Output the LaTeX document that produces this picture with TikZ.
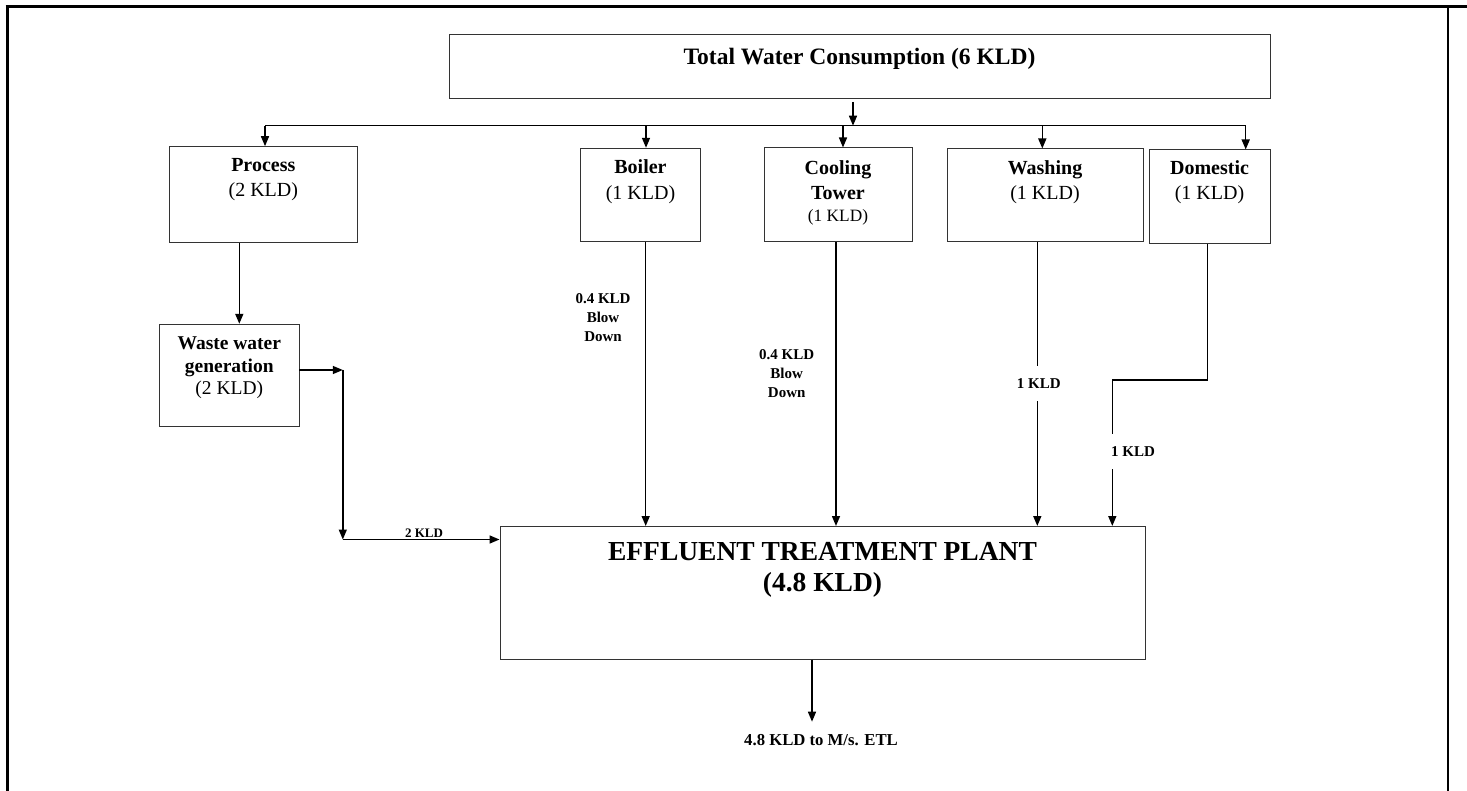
\documentclass[tikz,border=0pt]{standalone}
\usepackage{fontspec}
\setmainfont{Liberation Serif}
\usetikzlibrary{arrows.meta}
\tikzset{
  box/.style={draw=black!80, line width=1pt, rectangle, inner sep=0pt},
  txt/.style={inner sep=0pt, align=center, anchor=base},
  conn/.style={line width=1.5pt, black},
  arr/.style={conn, -{Triangle[length=10pt,width=8pt]}},
  lbl/.style={inner sep=0pt, align=center, anchor=base, font=\bfseries\fontsize{15}{19}\selectfont},
  gaplbl/.style={lbl, inner ysep=12.5pt, inner xsep=2pt},
}
\begin{document}
\begin{tikzpicture}[x=1pt, y=-1pt]
\useasboundingbox (0,0) rectangle (1467,791);

% outer frame
\draw[line width=3pt] (5.5,7) -- (1467,7);
\draw[line width=3pt] (7,5.5) -- (7,791);
\draw[line width=2.5pt] (1448,7) -- (1448,791);

% boxes
\node[box, minimum width=821pt, minimum height=64.5pt] (total) at (859.5,66.75) {};
\node[box, minimum width=188pt, minimum height=95.6pt] (proc) at (263.3,194.5) {};
\node[box, minimum width=119.3pt, minimum height=93.4pt] (boil) at (640.35,195) {};
\node[box, minimum width=148pt, minimum height=94pt] (cool) at (838,195) {};
\node[box, minimum width=196.3pt, minimum height=93pt] (wash) at (1045.15,195.5) {};
\node[box, minimum width=120.3pt, minimum height=93.3pt] (dom) at (1209.85,196.65) {};
\node[box, minimum width=140pt, minimum height=101.7pt] (waste) at (229.3,375.15) {};
\node[box, minimum width=645pt, minimum height=132.5pt] (etp) at (822.5,592.75) {};

% box texts (base anchor = baseline of last line)
\node[txt, font=\bfseries\fontsize{23.5}{28}\selectfont] (totalT) at (859.5,64.3) {Total Water Consumption (6 KLD)};
\node[txt, font=\fontsize{20}{25}\selectfont] (procT) at (263.3,197) {\textbf{Process}\\(2 KLD)};
\node[txt, font=\fontsize{20}{25.5}\selectfont] (boilT) at (640.5,199.5) {\textbf{Boiler}\\(1 KLD)};
\node[txt, font=\bfseries\fontsize{20}{25}\selectfont] (coolT) at (838,200) {Cooling\\Tower};
\node[txt, font=\fontsize{17.3}{21}\selectfont] (coolQ) at (838,221.7) {(1 KLD)};
\node[txt, font=\fontsize{20}{25}\selectfont] (washT) at (1045,200) {\textbf{Washing}\\(1 KLD)};
\node[txt, font=\fontsize{20}{25}\selectfont] (domT) at (1209.5,200) {\textbf{Domestic}\\(1 KLD)};
\node[txt, font=\fontsize{19.5}{22.5}\selectfont] (wasteT) at (229.3,395) {\textbf{Waste water}\\\textbf{generation}\\(2 KLD)};
\node[txt, font=\bfseries\fontsize{27.5}{31.7}\selectfont] (etpT) at (822.5,591.7) {EFFLUENT TREATMENT PLANT\\(4.8 KLD)};

% connector labels
\node[lbl] (lblB) at (603,342) {0.4 KLD\\Blow\\Down};
\node[lbl] (lblC) at (786.7,398) {0.4 KLD\\Blow\\Down};
\node[gaplbl] (lblW) at (1038.8,388.3) {1 KLD};
\node[gaplbl] (lblD) at (1133,456.7) {1 KLD};
\node[txt, font=\bfseries\fontsize{13}{15}\selectfont] (lbl2) at (424,537) {2 KLD};
\node[txt, font=\bfseries\fontsize{16.7}{20}\selectfont] (outT) at (821,745) {4.8 KLD to M/s. ETL};

% distribution from total
\coordinate (tA) at (853,102);
\coordinate (busL) at (265,125.7);
\coordinate (busR) at (1245.7,125.7);
\draw[arr] (tA) -- (tA |- busL);
\draw[conn] (busL) -- (busR);
\coordinate (dP) at (265,125.7);
\coordinate (dB) at (646,125.7);
\coordinate (dC) at (843,125.7);
\coordinate (dW) at (1042.3,125.7);
\coordinate (dD) at (1245.7,125.7);
\draw[arr] (dP) -- (dP |- proc.north);
\draw[arr] (dB) -- (dB |- boil.north);
\draw[arr] (dC) -- (dC |- cool.north);
\draw[arr] (dW) -- (dW |- wash.north);
\draw[arr] (dD) -- (dD |- dom.north);

% process -> waste water -> ETP
\coordinate (xP) at (239.3,0);
\draw[arr] (xP |- proc.south) -- (xP |- waste.north);
\coordinate (wOut) at (299.3,370);
\coordinate (j1) at (342.8,370);
\coordinate (j2) at (342.8,539.5);
\draw[arr] (wOut) -- (j1);
\draw[arr] (j1) -- (j2);
\draw[arr] (j2) -- (j2 -| etp.west);

% boiler, cooling -> ETP
\coordinate (xB) at (645.7,0);
\draw[arr] (xB |- boil.south) -- (xB |- etp.north);
\coordinate (xC) at (836,0);
\draw[arr] (xC |- cool.south) -- (xC |- etp.north);

% washing -> ETP
\coordinate (xW) at (1037.3,0);
\draw[conn] (xW |- wash.south) -- (xW |- lblW.north);
\draw[arr] (xW |- lblW.south) -- (xW |- etp.north);

% domestic -> ETP
\coordinate (xD) at (1207.3,0);
\coordinate (turnR) at (1207.3,380);
\coordinate (turnL) at (1112.3,380);
\draw[conn] (xD |- dom.south) -- (turnR) -- (turnL) -- (turnL |- lblD.north);
\draw[arr] (turnL |- lblD.south) -- (turnL |- etp.north);

% ETP -> out
\coordinate (xO) at (812,0);
\coordinate (oEnd) at (812,721.7);
\draw[arr] (xO |- etp.south) -- (oEnd);
\end{tikzpicture}
\end{document}
